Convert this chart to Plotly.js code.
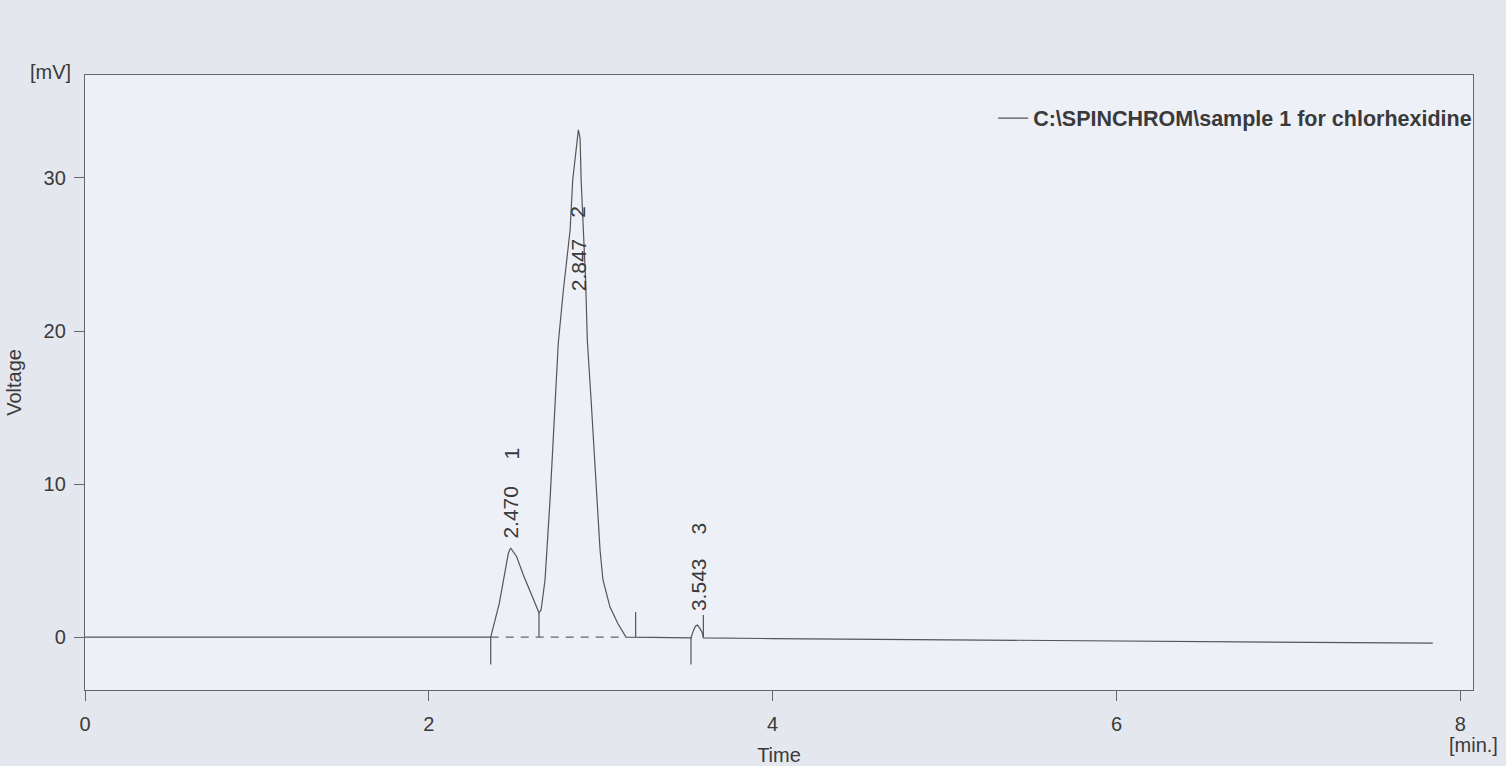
<!DOCTYPE html>
<html>
<head>
<meta charset="utf-8">
<script src="https://cdn.plot.ly/plotly-3.0.1.min.js"></script>
<style>html,body{margin:0;padding:0;background:#e5e7ee;}#chart{width:1506px;height:766px;}</style>
</head>
<body>
<div id="chart"></div>
<script>
// Chromatogram signal (time in min, voltage in mV)
const time = [0, 1.0, 2.0, 2.36, 2.41, 2.443, 2.463, 2.476, 2.511, 2.55, 2.608, 2.641,
  2.653, 2.676, 2.705, 2.734, 2.753, 2.782, 2.822, 2.837, 2.860, 2.870, 2.880, 2.886,
  2.912, 2.922, 2.944, 2.978, 2.996, 3.013, 3.054, 3.101, 3.147, 3.3, 3.525, 3.54,
  3.552, 3.562, 3.575, 3.59, 3.597, 4.0, 5.0, 6.0, 7.0, 7.84];
const voltage = [0, 0, 0, 0, 2.2, 4.38, 5.5, 5.82, 5.25, 4.05, 2.42, 1.59,
  1.76, 3.73, 8.95, 15.49, 19.2, 22.6, 26.6, 29.87, 32.29, 33.14, 32.6, 29.87,
  23.33, 19.41, 15.49, 8.95, 5.69, 3.73, 1.96, 0.85, 0, -0.02, -0.05, 0.45,
  0.72, 0.78, 0.6, 0.3, -0.06, -0.1, -0.18, -0.26, -0.33, -0.4];

// Integration baseline (dashed) under peaks 1 and 2
const baseTime = [2.36, 3.147];
const baseVolt = [0, 0];

// Peak start/end markers
const markTime = [2.36, 2.641, 3.203, 3.525, 3.597];
const markLow  = [-1.8, 0, 0, -1.8, 0];
const markHigh = [0, 1.59, 1.63, 0, 1.44];

// Peak labels
const peakRT    = ["2.470", "2.847", "3.543"];
const peakId    = ["1", "2", "3"];
const labelX    = [2.478, 2.868, 3.566];
const rtLabelY  = [8.2, 24.3, 3.4];
const idLabelY  = [12.0, 27.8, 7.1];

const legendName = "C:\\SPINCHROM\\sample 1 for chlorhexidine";

const mx = [], my = [];
markTime.forEach((t, i) => { mx.push(t, t, null); my.push(markLow[i], markHigh[i], null); });

const traces = [
  {x: time, y: voltage, type: 'scatter', mode: 'lines', name: legendName,
   line: {color: '#555555', width: 1.2}},
  {x: baseTime, y: baseVolt, type: 'scatter', mode: 'lines', showlegend: false,
   line: {color: '#666666', width: 1.2, dash: '8px,7px'}, hoverinfo: 'skip'},
  {x: mx, y: my, type: 'scatter', mode: 'lines', showlegend: false,
   line: {color: '#555555', width: 1.2}, hoverinfo: 'skip'}
];

const font = {family: 'Liberation Sans, Arial, sans-serif', size: 20, color: '#3a3a3a'};
const annotations = [];
peakRT.forEach((rt, i) => {
  annotations.push({x: labelX[i], y: rtLabelY[i], xref: 'x', yref: 'y', text: rt,
    textangle: -90, showarrow: false, font: {...font, size: 21}});
  annotations.push({x: labelX[i], y: idLabelY[i], xref: 'x', yref: 'y', text: peakId[i],
    textangle: -90, showarrow: false, font: {...font, size: 21}});
});
annotations.push({x: -0.0245, y: 1.005, xref: 'paper', yref: 'paper', text: '[mV]',
  showarrow: false, font: font, xanchor: 'center', yanchor: 'middle'});
annotations.push({x: 1.0007, y: -0.0894, xref: 'paper', yref: 'paper', text: '[min.]',
  showarrow: false, font: font, xanchor: 'center', yanchor: 'middle'});

const layout = {
  width: 1506, height: 766,
  paper_bgcolor: '#e5e7ee', plot_bgcolor: '#eef0f8',
  margin: {l: 85, r: 33, t: 75, b: 76},
  font: font,
  showlegend: true,
  legend: {x: 1.003, xanchor: 'right', y: 0.93, yanchor: 'middle', bgcolor: 'rgba(0,0,0,0)',
    font: {family: 'Liberation Sans, Arial, sans-serif', size: 21.5, color: '#3a3a3a', weight: 'bold'}},
  xaxis: {range: [0, 8.074], tickvals: [0, 2, 4, 6, 8], ticks: 'outside', ticklen: 10,
    tickcolor: '#666', showgrid: false, zeroline: false, showline: true, mirror: true,
    linecolor: '#666', linewidth: 1.2, ticklabelstandoff: 6,
    title: {text: 'Time', font: font, standoff: 17}},
  yaxis: {range: [-3.46, 36.73], tickvals: [0, 10, 20, 30], ticks: 'outside', ticklen: 10,
    tickcolor: '#666', showgrid: false, zeroline: false, showline: true, mirror: true,
    linecolor: '#666', linewidth: 1.2, ticklabelstandoff: 4,
    title: {text: 'Voltage', font: font, standoff: 16}},
  annotations: annotations
};

Plotly.newPlot('chart', traces, layout, {displayModeBar: false, staticPlot: true});
</script>
</body>
</html>
